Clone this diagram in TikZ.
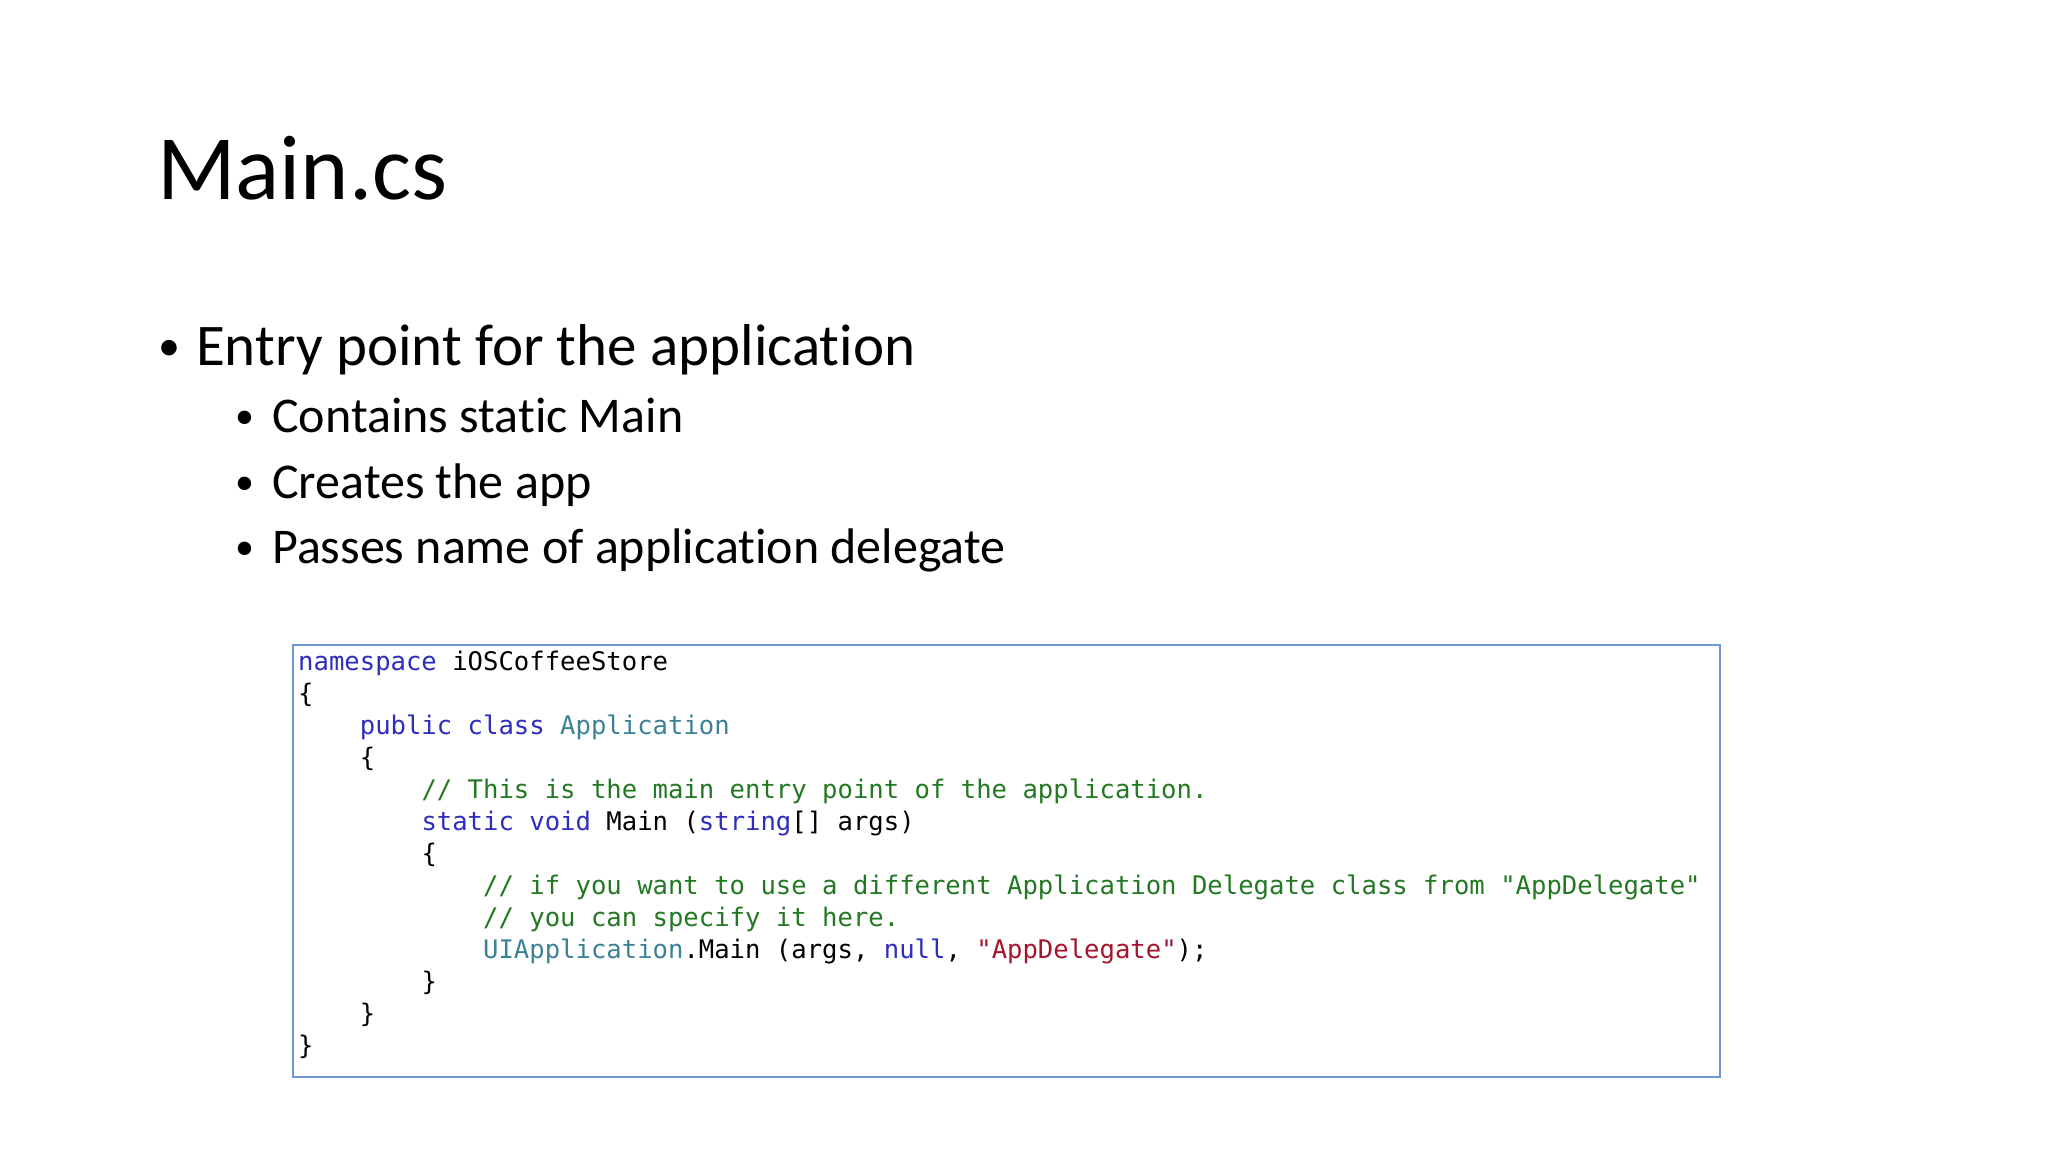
\documentclass[tikz,border=0pt]{standalone}
\usepackage{fontspec}
\setmainfont{Carlito}[Ligatures={NoCommon,NoRequired,NoContextual}]
\setmonofont{DejaVu Sans Mono}
\definecolor{kw}{RGB}{45,45,190}
\definecolor{ty}{RGB}{60,130,150}
\definecolor{cm}{RGB}{35,120,35}
\definecolor{st}{RGB}{165,20,45}
\definecolor{bx}{RGB}{110,150,215}
\begin{document}
\begin{tikzpicture}[x=1pt,y=-1pt,
  txt/.style={anchor=base west,inner sep=0pt},
  code/.style={txt,font=\fontsize{25.6}{30}\selectfont\ttfamily}]
\useasboundingbox (0,0) rectangle (2048,1152);
\node[txt,font=\fontsize{92}{110}\selectfont] (title) at (157,199) {Main.cs};
\node[txt,font=\fontsize{44}{50}\selectfont] (d1) at (158,360) {•};
\node[txt,font=\fontsize{59}{70}\selectfont] (b1) at (196,365) {Entry point for the application};
\foreach \t/\y [count=\i] in {Contains static Main/432,Creates the app/498,Passes name of application delegate/563}{
  \node[txt,font=\fontsize{38}{45}\selectfont] (ds\i) at (235,\y-4) {•};
  \node[txt,font=\fontsize{50}{60}\selectfont] (s\i) at (272,\y) {\t};}
\draw[bx,line width=1.5pt] (293,645) rectangle (1720,1077);
\def\L#1#2{\node[code] at (298,670+32*#1) {#2};}
\L{0}{\textcolor{kw}{namespace} iOSCoffeeStore}
\L{1}{\{}
\L{2}{\ \ \ \ \textcolor{kw}{public class} \textcolor{ty}{Application}}
\L{3}{\ \ \ \ \{}
\L{4}{\ \ \ \ \ \ \ \ \textcolor{cm}{// This is the main entry point of the application.}}
\L{5}{\ \ \ \ \ \ \ \ \textcolor{kw}{static void} Main (\textcolor{kw}{string}[] args)}
\L{6}{\ \ \ \ \ \ \ \ \{}
\L{7}{\ \ \ \ \ \ \ \ \ \ \ \ \textcolor{cm}{// if you want to use a different Application Delegate class from "AppDelegate"}}
\L{8}{\ \ \ \ \ \ \ \ \ \ \ \ \textcolor{cm}{// you can specify it here.}}
\L{9}{\ \ \ \ \ \ \ \ \ \ \ \ \textcolor{ty}{UIApplication}.Main (args, \textcolor{kw}{null}, \textcolor{st}{"AppDelegate"});}
\L{10}{\ \ \ \ \ \ \ \ \}}
\L{11}{\ \ \ \ \}}
\L{12}{\}}
\end{tikzpicture}
\end{document}
